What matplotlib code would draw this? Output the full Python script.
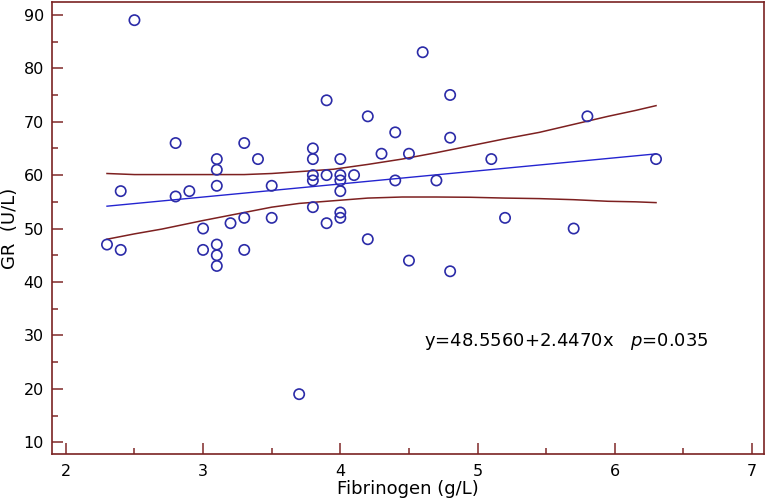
import matplotlib
matplotlib.use("Agg")
import matplotlib.pyplot as plt
import numpy as np
from matplotlib.ticker import MultipleLocator

# Data points (Fibrinogen g/L, GR U/L)
fib = [2.3, 2.4, 2.4, 2.5, 2.8, 2.8, 2.9, 3.0, 3.0, 3.1, 3.1, 3.1, 3.1, 3.1, 3.1,
       3.2, 3.3, 3.3, 3.3, 3.4, 3.5, 3.5, 3.7, 3.8, 3.8, 3.8, 3.8, 3.8, 3.9, 3.9,
       3.9, 4.0, 4.0, 4.0, 4.0, 4.0, 4.0, 4.1, 4.2, 4.2, 4.3, 4.4, 4.4, 4.5, 4.5,
       4.6, 4.7, 4.8, 4.8, 4.8, 5.1, 5.2, 5.7, 5.8, 6.3]
gr = [47, 57, 46, 89, 66, 56, 57, 50, 46, 63, 61, 58, 47, 45, 43,
      51, 66, 52, 46, 63, 58, 52, 19, 65, 63, 60, 59, 54, 74, 60,
      51, 63, 60, 59, 57, 53, 52, 60, 71, 48, 64, 68, 59, 64, 44,
      83, 59, 75, 67, 42, 63, 52, 50, 71, 63]

# Regression line
intercept = 48.5560
slope = 2.4470
fit_x = [2.3, 6.3]

# Confidence band
band_x = [2.3, 2.5, 2.7, 3.0, 3.3, 3.5, 3.7, 3.95, 4.2, 4.45, 4.7, 4.95, 5.2, 5.45, 5.7, 5.95, 6.15, 6.3]
band_upper = [60.3, 60.1, 60.1, 60.1, 60.1, 60.3, 60.65, 61.1, 62.0, 63.0, 64.2, 65.5, 66.8, 68.0, 69.5, 71.0, 72.1, 73.0]
band_lower = [48.0, 49.0, 49.9, 51.5, 53.0, 54.0, 54.7, 55.2, 55.7, 55.9, 55.9, 55.85, 55.7, 55.6, 55.4, 55.1, 55.0, 54.85]

frame_col = "#7a2323"
tick_col = "#8a3a3a"
pt_col = "#2b2ba8"
fit_col = "#2424d0"
band_col = "#7d2020"

fig = plt.figure(figsize=(7.66, 5.0), dpi=100)
ax = fig.add_axes([0.068, 0.092, 0.930, 0.904])

ax.plot(band_x, band_upper, color=band_col, lw=1.1)
ax.plot(band_x, band_lower, color=band_col, lw=1.1)
fx = np.array(fit_x)
ax.plot(fx, intercept + slope * fx, color=fit_col, lw=1.0)
ax.scatter(fib, gr, s=55, facecolors="none", edgecolors=pt_col, linewidths=1.2, zorder=3)

ax.set_xlim(1.9, 7.09)
ax.set_ylim(7.8, 92.4)
ax.xaxis.set_major_locator(MultipleLocator(1))
ax.xaxis.set_minor_locator(MultipleLocator(0.5))
ax.yaxis.set_major_locator(MultipleLocator(10))
ax.yaxis.set_minor_locator(MultipleLocator(5))
ax.tick_params(which="major", direction="in", length=8, width=1.2, color=tick_col,
               labelsize=11.5, pad=6)
ax.tick_params(which="minor", direction="in", length=4, width=1.2, color=tick_col)
ax.tick_params(axis="x", which="major", pad=7)
ax.set_yticks(range(10, 91, 10))
for s in ax.spines.values():
    s.set_color(frame_col)
    s.set_linewidth(1.2)

ax.set_xlabel("Fibrinogen (g/L)", fontsize=13, labelpad=1)
ax.set_ylabel("GR  (U/L)", fontsize=13, labelpad=3)

ax.text(4.61, 28.8, "y=48.5560+2.4470x   $\\mathit{p}$=0.035", fontsize=13, va="center", ha="left")

fig.savefig("out.png", dpi=100)
